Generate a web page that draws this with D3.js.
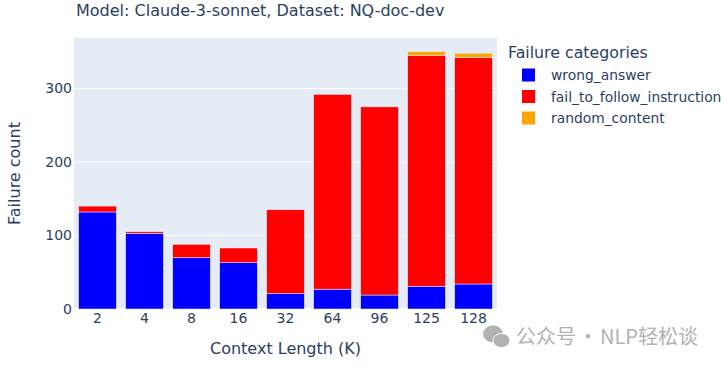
<!DOCTYPE html>
<html>
<head>
<meta charset="utf-8">
<script src="https://cdn.jsdelivr.net/npm/d3@7"></script>
<style>
  html, body { margin: 0; padding: 0; background: #fff; }
  text { font-family: "DejaVu Sans", Verdana, sans-serif; fill: #2a3f5f; }
</style>
</head>
<body>
<div id="chart"></div>
<script>
const contextLengths = ["2", "4", "8", "16", "32", "64", "96", "125", "128"];
const wrongAnswer = [132, 103, 70, 63, 21, 27, 19, 31, 34];
const failToFollow = [8, 2, 18, 20, 114, 265, 256, 314, 308];
const randomContent = [0, 0, 0, 0, 0, 0, 0, 5, 6];
const yTicks = [0, 100, 200, 300];
const seriesNames = ["wrong_answer", "fail_to_follow_instruction", "random_content"];
const seriesColors = ["#0000ff", "#ff0000", "#ffa500"];

const width = 724, height = 366;
const margin = { top: 38, right: 227, bottom: 57, left: 74 };

const svg = d3.select("#chart").append("svg")
    .attr("width", width)
    .attr("height", height)
    .style("display", "block");

const x = d3.scaleBand()
    .domain(contextLengths)
    .range([margin.left, width - margin.right])
    .paddingInner(0.2)
    .paddingOuter(0.1);

const y = d3.scaleLinear()
    .domain([0, 368.7])
    .range([height - margin.bottom, margin.top]);

// plot background
svg.append("rect")
    .attr("x", margin.left)
    .attr("y", margin.top)
    .attr("width", width - margin.left - margin.right)
    .attr("height", height - margin.top - margin.bottom)
    .attr("fill", "#E5ECF6");

// gridlines
svg.selectAll("line.grid")
    .data(yTicks)
    .enter().append("line")
    .attr("class", "grid")
    .attr("x1", margin.left)
    .attr("x2", width - margin.right)
    .attr("y1", d => y(d))
    .attr("y2", d => y(d))
    .attr("stroke", "#fff")
    .attr("stroke-width", d => d === 0 ? 2 : 1);

// stacked bars
const rows = contextLengths.map((c, i) => ({
    context: c,
    wrong_answer: wrongAnswer[i],
    fail_to_follow_instruction: failToFollow[i],
    random_content: randomContent[i]
}));
const stacked = d3.stack().keys(seriesNames)(rows);

svg.selectAll("g.series")
    .data(stacked)
    .enter().append("g")
    .attr("class", "series")
    .attr("fill", (d, i) => seriesColors[i])
    .selectAll("rect")
    .data(d => d.filter(v => v[1] > v[0]))
    .enter().append("rect")
    .attr("x", d => x(d.data.context))
    .attr("y", d => y(d[1]))
    .attr("width", x.bandwidth())
    .attr("height", d => y(d[0]) - y(d[1]))
    .attr("stroke", "#E5ECF6")
    .attr("stroke-width", 0.5);

// axes
const xAxis = svg.append("g")
    .attr("transform", `translate(0,${height - margin.bottom})`)
    .call(d3.axisBottom(x).tickSize(0).tickPadding(4));
const yAxis = svg.append("g")
    .attr("transform", `translate(${margin.left},0)`)
    .call(d3.axisLeft(y).tickValues(yTicks).tickSize(0).tickPadding(2));
[xAxis, yAxis].forEach(a => {
    a.select(".domain").remove();
    a.selectAll("text")
        .style("font-size", "14px")
        .style("font-family", '"DejaVu Sans", Verdana, sans-serif')
        .attr("fill", "#2a3f5f");
});

// titles
svg.append("text")
    .attr("x", 76)
    .attr("y", 16)
    .style("font-size", "16px")
    .text("Model: Claude-3-sonnet, Dataset: NQ-doc-dev");

svg.append("text")
    .attr("x", (margin.left + width - margin.right) / 2)
    .attr("y", 354)
    .attr("text-anchor", "middle")
    .style("font-size", "16px")
    .text("Context Length (K)");

svg.append("text")
    .attr("transform", `translate(20,${(margin.top + height - margin.bottom) / 2}) rotate(-90)`)
    .attr("text-anchor", "middle")
    .style("font-size", "16px")
    .text("Failure count");

// legend
svg.append("text")
    .attr("x", 508)
    .attr("y", 58)
    .style("font-size", "15.8px")
    .text("Failure categories");

const legendY = d3.scalePoint().domain(seriesNames).range([75, 118]);
const legend = svg.selectAll("g.legend")
    .data(seriesNames)
    .enter().append("g")
    .attr("class", "legend")
    .attr("transform", d => `translate(0,${legendY(d)})`);
legend.append("rect")
    .attr("x", 522)
    .attr("y", -6.5)
    .attr("width", 13)
    .attr("height", 13)
    .attr("fill", (d, i) => seriesColors[i]);
legend.append("text")
    .attr("x", 551)
    .attr("y", 5)
    .style("font-size", "13.85px")
    .text(d => d);

// watermark
const mark = svg.append("g").attr("fill", "#b2b2b2");
mark.append("ellipse").attr("cx", 493).attr("cy", 334).attr("rx", 10).attr("ry", 8.5);
mark.append("ellipse").attr("cx", 501.5).attr("cy", 340.5).attr("rx", 8.5).attr("ry", 7)
    .attr("stroke", "#fff").attr("stroke-width", 1);
svg.append("text")
    .attr("x", 516)
    .attr("y", 344)
    .style("font-family", '"Noto Sans CJK SC", sans-serif')
    .style("font-size", "20px")
    .style("word-spacing", "-2.5px")
    .style("fill", "#b2b2b2")
    .text("公众号 · NLP轻松谈");
</script>
</body>
</html>
